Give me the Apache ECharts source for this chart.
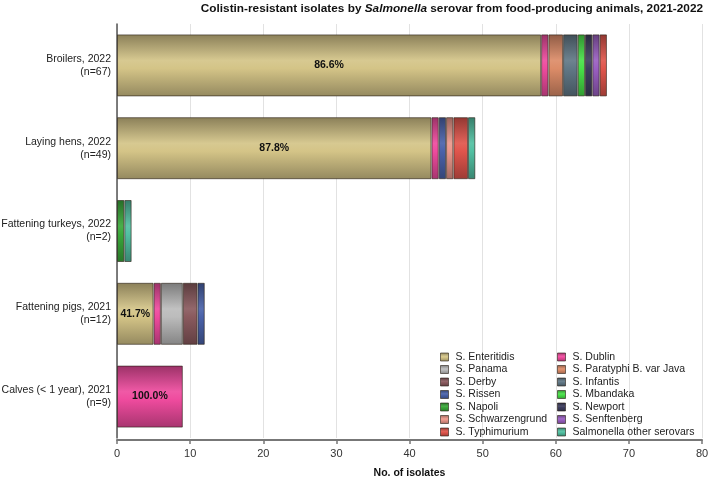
<!DOCTYPE html>
<html><head><meta charset="utf-8">
<script src="https://cdn.jsdelivr.net/npm/echarts@6/dist/echarts.min.js"></script>
<style>html,body{margin:0;padding:0;background:#fff}#c{width:709px;height:478px}</style>
</head><body><div id="c"></div>
<script>
// ---------- data ----------
const categories = [
  'Broilers, 2022\n(n=67)',
  'Laying hens, 2022\n(n=49)',
  'Fattening turkeys, 2022\n(n=2)',
  'Fattening pigs, 2021\n(n=12)',
  'Calves (< 1 year), 2021\n(n=9)'
];
const serovars = [
  'S. Enteritidis', 'S. Dublin', 'S. Panama', 'S. Paratyphi B. var Java',
  'S. Derby', 'S. Infantis', 'S. Rissen', 'S. Mbandaka', 'S. Napoli',
  'S. Newport', 'S. Schwarzengrund', 'S. Senftenberg', 'S. Typhimurium',
  'Salmonella other serovars'
];
const enteritidis    = [58, 43, null, 5, null];
const dublin         = [1, 1, null, 1, 9];
const panama         = [null, null, null, 3, null];
const paratyphi      = [2, null, null, null, null];
const derby          = [null, null, null, 2, null];
const infantis       = [2, null, null, null, null];
const rissen         = [null, 1, null, 1, null];
const mbandaka       = [1, null, null, null, null];
const napoli         = [null, null, 1, null, null];
const newport        = [1, null, null, null, null];
const schwarzengrund = [null, 1, null, null, null];
const senftenberg    = [1, null, null, null, null];
const typhimurium    = [1, 2, null, null, null];
const otherSerovars  = [null, 1, 1, null, null];
const totals = [67, 49, 2, 12, 9];
// serovar whose share is printed on each bar
const labelledSerovar = ['S. Enteritidis', 'S. Enteritidis', null, 'S. Enteritidis', 'S. Dublin'];
const xTicks = [0, 10, 20, 30, 40, 50, 60, 70, 80];

const seriesValues = [enteritidis, dublin, panama, paratyphi, derby, infantis, rissen,
  mbandaka, napoli, newport, schwarzengrund, senftenberg, typhimurium, otherSerovars];

// ---------- style ----------
const colors = ['#d4c487', '#ef4b9e', '#bcbcbc', '#dc8c68', '#8a5a5e', '#617886',
  '#4a62aa', '#48df48', '#3aa83a', '#3d3d5e', '#ec978b', '#9a5fc2', '#e0554c', '#52c0a2'];

function mix(hex, t, target) {
  const n = parseInt(hex.slice(1), 16);
  let r = n >> 16, g = (n >> 8) & 255, b = n & 255;
  r = Math.round(r + (target - r) * t);
  g = Math.round(g + (target - g) * t);
  b = Math.round(b + (target - b) * t);
  return 'rgb(' + r + ',' + g + ',' + b + ')';
}
function grad(hex) {
  return new echarts.graphic.LinearGradient(0, 0, 0, 1, [
    {offset: 0, color: mix(hex, 0.35, 0)},
    {offset: 0.42, color: mix(hex, 0.08, 255)},
    {offset: 0.55, color: hex},
    {offset: 1, color: mix(hex, 0.3, 0)}
  ]);
}

const series = serovars.map((name, i) => ({
  name: name,
  type: 'bar',
  stack: 'total',
  barWidth: 62,
  data: seriesValues[i],
  itemStyle: {color: grad(colors[i]), borderColor: 'rgba(40,30,20,0.6)', borderWidth: 1},
  label: {
    show: true,
    position: 'inside',
    fontFamily: 'Liberation Sans',
    fontWeight: 'bold',
    fontSize: 10.5,
    color: '#111',
    formatter: p => (labelledSerovar[p.dataIndex] === name && p.value != null)
      ? (p.value / totals[p.dataIndex] * 100).toFixed(1) + '%' : ''
  },
  emphasis: {disabled: true}
}));

const legendText = {fontFamily: 'Liberation Sans', fontSize: 10.5, color: '#222', lineHeight: 12, padding: [0, 0, 0, 2]};
const leftCol = serovars.filter((_, i) => i % 2 === 0);
const rightCol = serovars.filter((_, i) => i % 2 === 1);

const chart = echarts.init(document.getElementById('c'), null, {renderer: 'canvas'});
chart.setOption({
  animation: false,
  color: colors,
  title: {
    text: '{b|Colistin-resistant isolates by }{i|Salmonella}{b| serovar from food-producing animals, 2021-2022}',
    right: 6, top: 2.5, padding: 0,
    textStyle: {
      rich: {
        b: {fontFamily: 'Liberation Sans', fontWeight: 'bold', fontSize: 11.8, color: '#111'},
        i: {fontFamily: 'Liberation Sans', fontWeight: 'bold', fontStyle: 'italic', fontSize: 11.8, color: '#111'}
      }
    }
  },
  grid: {left: 117, right: 7, top: 24, bottom: 40, outerBoundsMode: 'none', containLabel: false},
  legend: [
    {data: leftCol, orient: 'vertical', left: 440, top: 351, padding: 0, itemWidth: 8, itemHeight: 8,
      itemGap: 0.5, icon: 'rect', textStyle: legendText, selectedMode: false,
      itemStyle: {borderColor: 'rgba(40,30,20,0.6)', borderWidth: 1}},
    {data: rightCol, orient: 'vertical', left: 557, top: 351, padding: 0, itemWidth: 8, itemHeight: 8,
      itemGap: 0.5, icon: 'rect', textStyle: legendText, selectedMode: false,
      itemStyle: {borderColor: 'rgba(40,30,20,0.6)', borderWidth: 1}}
  ],
  xAxis: {
    type: 'value', min: xTicks[0], max: xTicks[xTicks.length - 1], interval: 10,
    offset: 2,
    name: 'No. of isolates', nameLocation: 'middle', nameGap: 28,
    nameTextStyle: {fontFamily: 'Liberation Sans', fontWeight: 'bold', fontSize: 10.5, color: '#111'},
    axisLine: {show: true, lineStyle: {color: '#777', width: 2}},
    axisTick: {show: true, length: 4, lineStyle: {color: '#777', width: 1.5}},
    axisLabel: {fontFamily: 'Liberation Sans', fontSize: 11, color: '#333', margin: 8},
    splitLine: {show: true, lineStyle: {color: '#e2e2e2', width: 1}}
  },
  yAxis: {
    type: 'category', data: categories, inverse: true,
    axisLine: {show: true, lineStyle: {color: '#555', width: 1.5}},
    axisTick: {show: false},
    axisLabel: {fontFamily: 'Liberation Sans', fontSize: 10.5, color: '#222', margin: 6, lineHeight: 13, align: 'right'},
    splitLine: {show: false}
  },
  series: series
});
</script>
</body></html>
